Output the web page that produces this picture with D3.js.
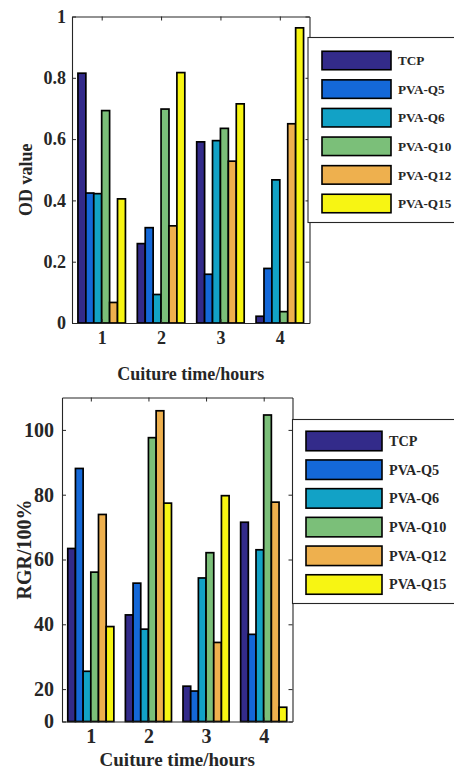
<!DOCTYPE html>
<html>
<head>
<meta charset="utf-8">
<script src="https://cdn.jsdelivr.net/npm/d3@7/dist/d3.min.js"></script>
<style>
  html, body { margin: 0; padding: 0; background: #fff; }
  svg { display: block; }
  text { font-family: "Liberation Serif", "Times New Roman", serif; font-weight: bold; fill: #262626; }
</style>
</head>
<body>
<svg id="chart" width="454" height="769"></svg>
<script>
// ---------------- DATA ----------------
const categories = [1, 2, 3, 4];
const seriesNames = ["TCP", "PVA-Q5", "PVA-Q6", "PVA-Q10", "PVA-Q12", "PVA-Q15"];
const seriesColors = ["#332b8a", "#1468d8", "#12a2c6", "#7bbf79", "#eeb04e", "#f7f513"];

// OD value (top chart), one array per series, values for hours 1..4
const odTCP   = [0.815, 0.259, 0.591, 0.022];
const odQ5    = [0.424, 0.311, 0.159, 0.178];
const odQ6    = [0.422, 0.093, 0.595, 0.467];
const odQ10   = [0.693, 0.698, 0.635, 0.037];
const odQ12   = [0.067, 0.317, 0.528, 0.650];
const odQ15   = [0.405, 0.817, 0.715, 0.963];
const odTickValues = [0, 0.2, 0.4, 0.6, 0.8, 1];
const odTickLabels = ["0", "0.2", "0.4", "0.6", "0.8", "1"];

// RGR/100% (bottom chart)
const rgrTCP  = [63.4, 42.9, 20.9, 71.5];
const rgrQ5   = [88.1, 52.7, 19.4, 36.9];
const rgrQ6   = [25.5, 38.5, 54.3, 63.0];
const rgrQ10  = [56.1, 97.6, 62.1, 104.6];
const rgrQ12  = [73.9, 105.9, 34.4, 77.7];
const rgrQ15  = [39.3, 77.4, 79.7, 14.4];
const rgrTickValues = [10, 20, 40, 60, 80, 100];
const rgrTickLabels = ["0", "20", "40", "60", "80", "100"];

const xLabel = "Cuiture time/hours";

// ---------------- DRAW ----------------
const svg = d3.select("#chart");
const FONT = "'Liberation Serif', 'Times New Roman', serif";

function drawChart(cfg) {
  const g = svg.append("g");
  const x = d3.scaleLinear().domain([0.5, 4.5]).range([cfg.left, cfg.right]);
  const y = d3.scaleLinear().domain(cfg.yDomain).range([cfg.bottom, cfg.top]);
  const n = cfg.series.length;
  const groupW = 0.8;
  const bw = groupW / n;

  // bars
  cfg.series.forEach((vals, j) => {
    g.append("g").selectAll("rect")
      .data(vals.map((v, i) => ({ c: categories[i], v })))
      .join("rect")
      .attr("x", d => x(d.c - groupW / 2 + j * bw))
      .attr("width", d => x(d.c - groupW / 2 + (j + 1) * bw) - x(d.c - groupW / 2 + j * bw))
      .attr("y", d => y(d.v))
      .attr("height", d => y(cfg.yDomain[0]) - y(d.v))
      .attr("fill", seriesColors[j])
      .attr("stroke", "#000")
      .attr("stroke-width", 1.7);
  });

  // axes (box with inward ticks on all sides)
  const ax = g.append("g");
  const axB = d3.axisBottom(x).tickValues(categories).tickSizeInner(-4).tickSizeOuter(0).tickPadding(cfg.xPad).tickFormat(d3.format("d"));
  const axT = d3.axisTop(x).tickValues(categories).tickSizeInner(-4).tickSizeOuter(0).tickFormat("");
  const axL = d3.axisLeft(y).tickValues(cfg.tickValues).tickSizeInner(-4).tickSizeOuter(0).tickPadding(cfg.yPad)
    .tickFormat((d, i) => cfg.tickLabels[i]);
  const axR = d3.axisRight(y).tickValues(cfg.tickValues).tickSizeInner(-4).tickSizeOuter(0).tickFormat("");

  ax.append("g").attr("transform", `translate(0,${cfg.bottom})`).call(axB);
  ax.append("g").attr("transform", `translate(0,${cfg.top})`).call(axT);
  ax.append("g").attr("transform", `translate(${cfg.left},0)`).call(axL);
  ax.append("g").attr("transform", `translate(${cfg.right},0)`).call(axR);
  ax.selectAll("g").attr("font-family", FONT);
  ax.selectAll(".domain").attr("stroke", "#262626").attr("stroke-width", 1.1);
  ax.selectAll(".tick line").attr("stroke", "#262626").attr("stroke-width", 1);
  ax.selectAll(".tick text").style("font-size", cfg.tickFont + "px").attr("fill", "#262626")
    .style("font-family", FONT).style("font-weight", "bold");

  // axis titles
  g.append("text")
    .attr("x", (cfg.left + cfg.right) / 2)
    .attr("y", cfg.xTitleY)
    .attr("text-anchor", "middle")
    .style("font-size", cfg.xTitleFont + "px")
    .text(xLabel);
  g.append("text")
    .attr("transform", `translate(${cfg.yTitleX},${(cfg.top + cfg.bottom) / 2 + cfg.yTitleShift}) rotate(-90)`)
    .attr("text-anchor", "middle")
    .style("font-size", cfg.yTitleFont + "px")
    .text(cfg.yTitle);

  // legend
  const L = cfg.legend;
  const lg = g.append("g");
  lg.append("rect")
    .attr("x", L.x).attr("y", L.y).attr("width", L.w).attr("height", L.h)
    .attr("fill", "#fff").attr("stroke", "#262626").attr("stroke-width", 1.1);
  seriesNames.forEach((name, j) => {
    const cy = L.y + L.first + j * L.step;
    lg.append("rect")
      .attr("x", L.sx).attr("y", cy - L.sh / 2)
      .attr("width", L.sw).attr("height", L.sh)
      .attr("fill", seriesColors[j]).attr("stroke", "#000").attr("stroke-width", 1.6);
    lg.append("text")
      .attr("x", L.tx).attr("y", cy).attr("dy", "0.35em")
      .style("font-size", L.font + "px")
      .text(name);
  });
}

drawChart({
  left: 72, right: 309.5, top: 16.5, bottom: 323,
  yDomain: [0, 1],
  series: [odTCP, odQ5, odQ6, odQ10, odQ12, odQ15],
  tickValues: odTickValues, tickLabels: odTickLabels,
  tickFont: 18, xPad: 8, yPad: 6,
  xTitleY: 380, xTitleFont: 18,
  yTitle: "OD value", yTitleX: 32, yTitleShift: 10, yTitleFont: 18,
  legend: { x: 308, y: 37.5, w: 160, h: 185, first: 23, step: 28.6, sx: 322, sw: 69, sh: 18.5, tx: 398, font: 13.2 }
});

drawChart({
  left: 62, right: 292.5, top: 397.5, bottom: 721.5,
  yDomain: [10, 110],
  series: [rgrTCP, rgrQ5, rgrQ6, rgrQ10, rgrQ12, rgrQ15],
  tickValues: rgrTickValues, tickLabels: rgrTickLabels,
  tickFont: 20, xPad: 7, yPad: 8,
  xTitleY: 766, xTitleFont: 19,
  yTitle: "RGR/100%", yTitleX: 31, yTitleShift: -10, yTitleFont: 20,
  legend: { x: 292.5, y: 419.5, w: 170, h: 184, first: 21.5, step: 28.7, sx: 306, sw: 76, sh: 19.5, tx: 389, font: 14.2 }
});
</script>
</body>
</html>
